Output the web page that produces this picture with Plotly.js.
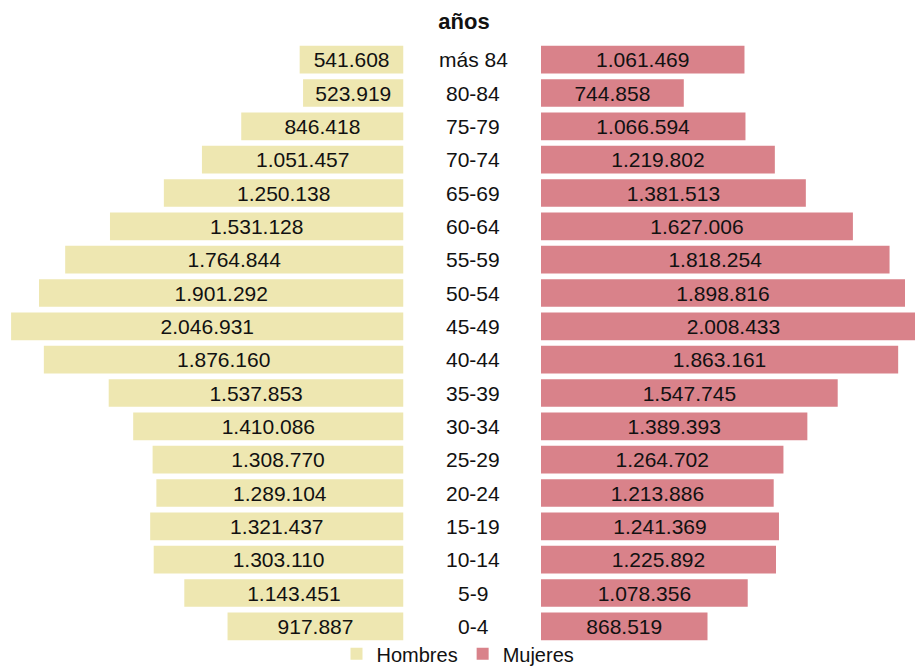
<!DOCTYPE html>
<html>
<head>
<meta charset="utf-8">
<script src="https://cdn.plot.ly/plotly-3.0.1.min.js"></script>
<style>html,body{margin:0;padding:0;background:#fff;}</style>
</head>
<body>
<div id="chart" style="width:915px;height:668px;"></div>
<script>
const categories = ["más 84","80-84","75-79","70-74","65-69","60-64","55-59","50-54","45-49","40-44","35-39","30-34","25-29","20-24","15-19","10-14","5-9","0-4"];
const hombres = [541608,523919,846418,1051457,1250138,1531128,1764844,1901292,2046931,1876160,1537853,1410086,1308770,1289104,1321437,1303110,1143451,917887];
const mujeres = [1061469,744858,1066594,1219802,1381513,1627006,1818254,1898816,2008433,1863161,1547745,1389393,1264702,1213886,1241369,1225892,1078356,868519];
const seriesNames = ["Hombres","Mujeres"];
const titleText = "años";

const FONT = "Liberation Sans, Arial, sans-serif";
const textFont = {family: FONT, size: 21, color: "#111"};

const common = {
  type: "bar", orientation: "h", y: categories,
  texttemplate: "%{x:,}", textposition: "inside", insidetextanchor: "middle",
  textangle: 0, constraintext: "none", cliponaxis: true,
  insidetextfont: textFont, textfont: textFont, hoverinfo: "x+y"
};

const traces = [
  Object.assign({}, common, {name: seriesNames[0], x: hombres, xaxis: "x", yaxis: "y",
    marker: {color: "#EEE7B1", line: {width: 0}}}),
  Object.assign({}, common, {name: seriesNames[1], x: mujeres, xaxis: "x2", yaxis: "y",
    marker: {color: "#D9828A", line: {width: 0}}})
];

const pxPerUnit = 191.7 / 1e6;
const leftEnd = 403.5, rightStart = 541, W = 915;

const annotations = categories.map(c => ({
  xref: "paper", yref: "y", x: 473 / W, y: c, text: c, showarrow: false,
  xanchor: "center", yanchor: "middle", font: textFont
}));

const layout = {
  width: 915, height: 668,
  margin: {l: 0, r: 0, t: 43, b: 25, autoexpand: false},
  paper_bgcolor: "#fff", plot_bgcolor: "#fff",
  separators: ",.",
  bargap: 0.17,
  showlegend: true,
  font: {family: FONT, size: 21, color: "#111"},
  title: {text: "<b>" + titleText + "</b>", x: 464 / W, xanchor: "center", xref: "container",
    y: 1 - 21 / 668, yanchor: "middle", yref: "container",
    font: {family: FONT, size: 22, color: "#111"}},
  xaxis: {domain: [0, leftEnd / W], range: [leftEnd / pxPerUnit, 0], visible: false, anchor: "y", fixedrange: true},
  xaxis2: {domain: [rightStart / W, 1], range: [0, (W - rightStart) / pxPerUnit], visible: false, anchor: "y", fixedrange: true},
  yaxis: {type: "category", autorange: "reversed", visible: false, domain: [0, 1], fixedrange: true},
  legend: {orientation: "h", x: 458 / W, xanchor: "center", y: -0.018, yanchor: "middle",
    font: {family: FONT, size: 20, color: "#111"}, bgcolor: "rgba(0,0,0,0)", traceorder: "normal"},
  annotations: annotations
};

Plotly.newPlot("chart", traces, layout, {displayModeBar: false, staticPlot: true});
</script>
</body>
</html>
